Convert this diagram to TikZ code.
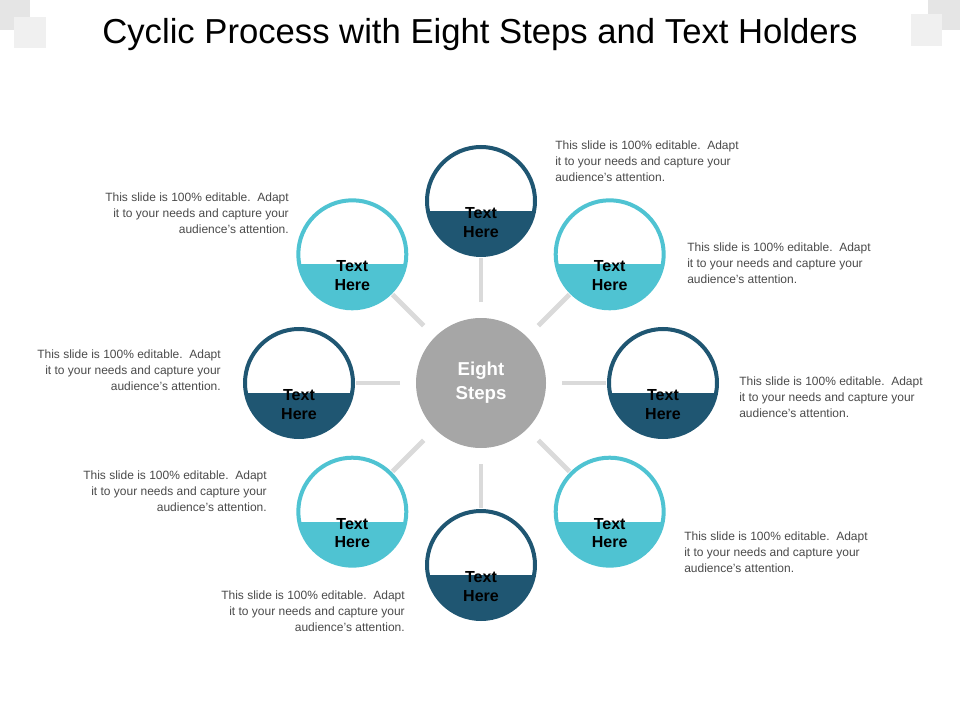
\documentclass[tikz,border=0pt]{standalone}
\usepackage{fontspec}
\setmainfont{Liberation Sans}
\usetikzlibrary{positioning,calc}
\definecolor{darkstep}{HTML}{1F5672}
\definecolor{lightstep}{HTML}{4FC3D2}
\definecolor{linkgray}{HTML}{DADADA}
\definecolor{hubgray}{HTML}{A6A6A6}
\definecolor{notegray}{HTML}{4A4A4A}
\tikzstyle{link}=[
        draw=linkgray,
        line width=3.5pt
]
\tikzstyle{note}=[
        text=notegray,
        font=\fontsize{9}{12}\selectfont,
        inner sep=0pt
]
\tikzstyle{steplabel}=[
        font=\bfseries\fontsize{12}{14}\selectfont,
        align=center
]
\tikzstyle{stepnum}=[
        text=white,
        font=\bfseries\fontsize{13.5}{14}\selectfont
]
\newcommand{\notetext}{This slide is 100\% editable.\ \ Adapt\\it to your needs and capture your\\audience's attention.}
\begin{document}
\begin{tikzpicture}[x=0.75pt,y=-0.75pt]
                        \useasboundingbox (0,0) rectangle (960,720);
                        \fill[linkgray!70] (0,0) rectangle (30,30);
                        \fill[white!94!black] (14,17) rectangle (46,48);
                        \fill[linkgray!70] (928,0) rectangle (960,30);
                        \fill[white!94!black] (911,14) rectangle (942,46);
                        \node (title) at (480,35) {\fontsize{26}{30}\selectfont Cyclic Process with Eight Steps and Text Holders};

                        \node[circle,fill=hubgray,minimum size=97.5pt,inner sep=0pt,text=white,
                              font=\bfseries\fontsize{14}{18}\selectfont,align=center] (hub) at (481,383) {Eight\\Steps};

                        \foreach \n/\a/\c in {1/90/darkstep,2/45/lightstep,3/0/darkstep,4/-45/lightstep,
                                              5/-90/darkstep,6/-135/lightstep,7/180/darkstep,8/135/lightstep} {
                            \coordinate (s\n) at ({481+182*cos(\a)},{383-182*sin(\a)});
                            \draw[link] ($(hub)!81/182!(s\n)$) -- ($(hub)!125/182!(s\n)$);
                            \begin{scope}
                                \clip (s\n) circle (40.5pt);
                                \fill[white] (s\n) circle (40.5pt);
                                \fill[\c] ([shift={(-60,10)}]s\n) rectangle ([shift={(60,60)}]s\n);
                            \end{scope}
                            \draw[\c,line width=3pt] (s\n) circle (40.5pt);
                            \node[steplabel] (t\n) at ([yshift=-16]s\n) {Text\\Here};
                            \node[stepnum] (n\n) at ([yshift=30]s\n) {0\hspace{2pt}\n};
                        }

                        \node[note,align=left,anchor=north west] (d1) at (555,141) {\notetext};
                        \node[note,align=left,anchor=north west] (d2) at (687,243) {\notetext};
                        \node[note,align=left,anchor=north west] (d3) at (739,377) {\notetext};
                        \node[note,align=left,anchor=north west] (d4) at (684,532) {\notetext};
                        \node[note,align=right,anchor=north east] (d5) at (405,591) {\notetext};
                        \node[note,align=right,anchor=north east] (d6) at (267,471) {\notetext};
                        \node[note,align=right,anchor=north east] (d7) at (221,350) {\notetext};
                        \node[note,align=right,anchor=north east] (d8) at (289,193) {\notetext};
                    \end{tikzpicture}
\end{document}
